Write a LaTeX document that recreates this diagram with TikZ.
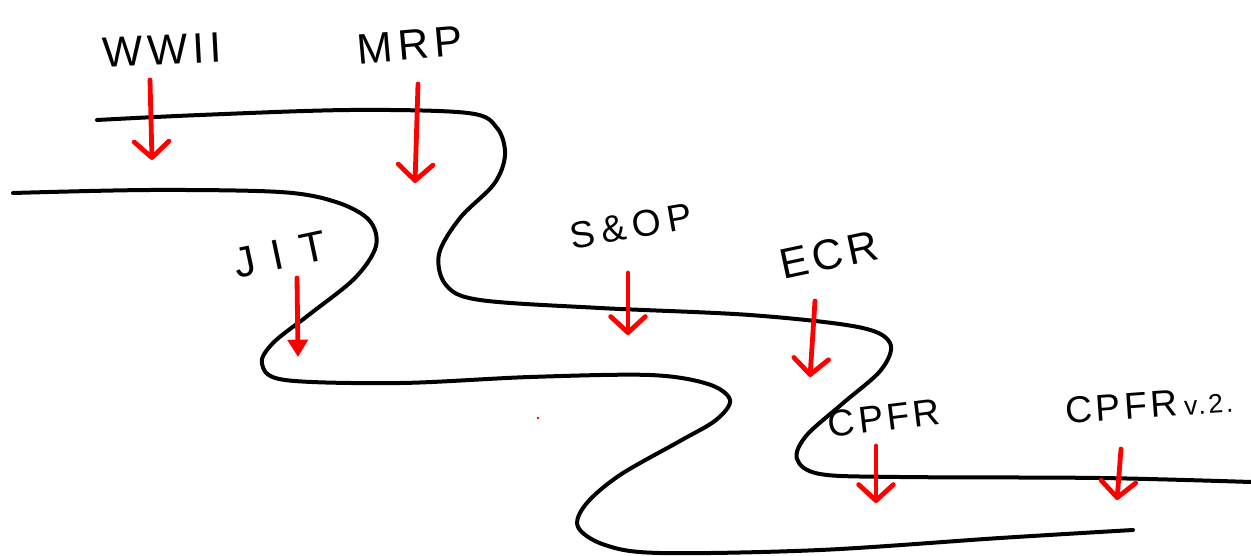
\documentclass[tikz,border=0pt]{standalone}
\usepackage{fontspec}
\setmainfont{Liberation Sans}
\usetikzlibrary{arrows.meta}
\begin{document}
\begin{tikzpicture}[x=0.75pt,y=-0.75pt,
  bank/.style={line width=3pt, line cap=round, line join=round},
  flow/.style={draw=red, line width=3.6pt, line cap=round,
    -{Straight Barb[length=12pt,width=26pt,round]}},
  flowfill/.style={draw=red, line width=3.6pt, line cap=round,
    -{Triangle[length=13pt,width=15pt,fill=red]}},
  tag/.style={inner sep=0pt,
    font=\fontsize{32}{32}\selectfont\addfontfeature{LetterSpace=12}},
  smalltag/.style={inner sep=0pt,
    font=\fontsize{28}{28}\selectfont\addfontfeature{LetterSpace=10}}]
\useasboundingbox (0,0) rectangle (1251,556);

% upper bank
\draw[bank] plot[smooth, tension=0.55] coordinates {
  (97,120) (200,115) (350,110) (468,113) (497,128) (505,155) (494,184)
  (460,218) (439,254) (446,285) (480,300) (600,308) (750,315) (858,327)
  (890,343) (881,370) (842,404) (806,436) (797,459) (820,474) (900,477)
  (1100,478) (1251,482)};

% lower bank
\draw[bank] plot[smooth, tension=0.55] coordinates {
  (13,193) (150,190) (280,192) (336,202) (369,220) (376,246) (355,278)
  (310,314) (273,343) (262,364) (285,380) (400,383) (530,377) (650,375)
  (708,384) (730,400) (716,420) (680,441) (620,475) (586,504) (578,527)
  (605,545) (660,553) (820,550) (1000,538) (1133,530)};

% stray dot
\fill[red] (538,418) circle (1.3);

% labels
\node[tag, rotate=3]  (wwii) at (162,50)  {WWII};
\node[tag, rotate=5]  (mrp)  at (410,45)  {MRP};
\node[tag, rotate=12,
  font=\fontsize{32}{32}\selectfont\addfontfeature{LetterSpace=40}]
  (jit) at (280,255) {JIT};
\node[smalltag, rotate=10,
  font=\fontsize{28}{28}\selectfont\addfontfeature{LetterSpace=18}]
  (sop) at (631,226) {S\&OP};
\node[tag, rotate=12] (ecr)  at (829,255) {ECR};
\node[smalltag, rotate=7]  (cpfr) at (884,418) {CPFR};
\node[smalltag, rotate=4, anchor=west] (cpfr2) at (1065,411)
  {CPFR\,{\fontsize{20}{20}\selectfont v.2.}};

% arrows
\draw[flow] (150,80) -- (152,160);
\draw[flow] (418,84) -- (415,183);
\draw[flowfill] (297,278) -- (298,357);
\draw[flow] (628,273) -- (628,335);
\draw[flow] (815,301) -- (810,377);
\draw[flow] (876,446) -- (876,503);
\draw[flow] (1121,449) -- (1117,500);
\end{tikzpicture}
\end{document}
